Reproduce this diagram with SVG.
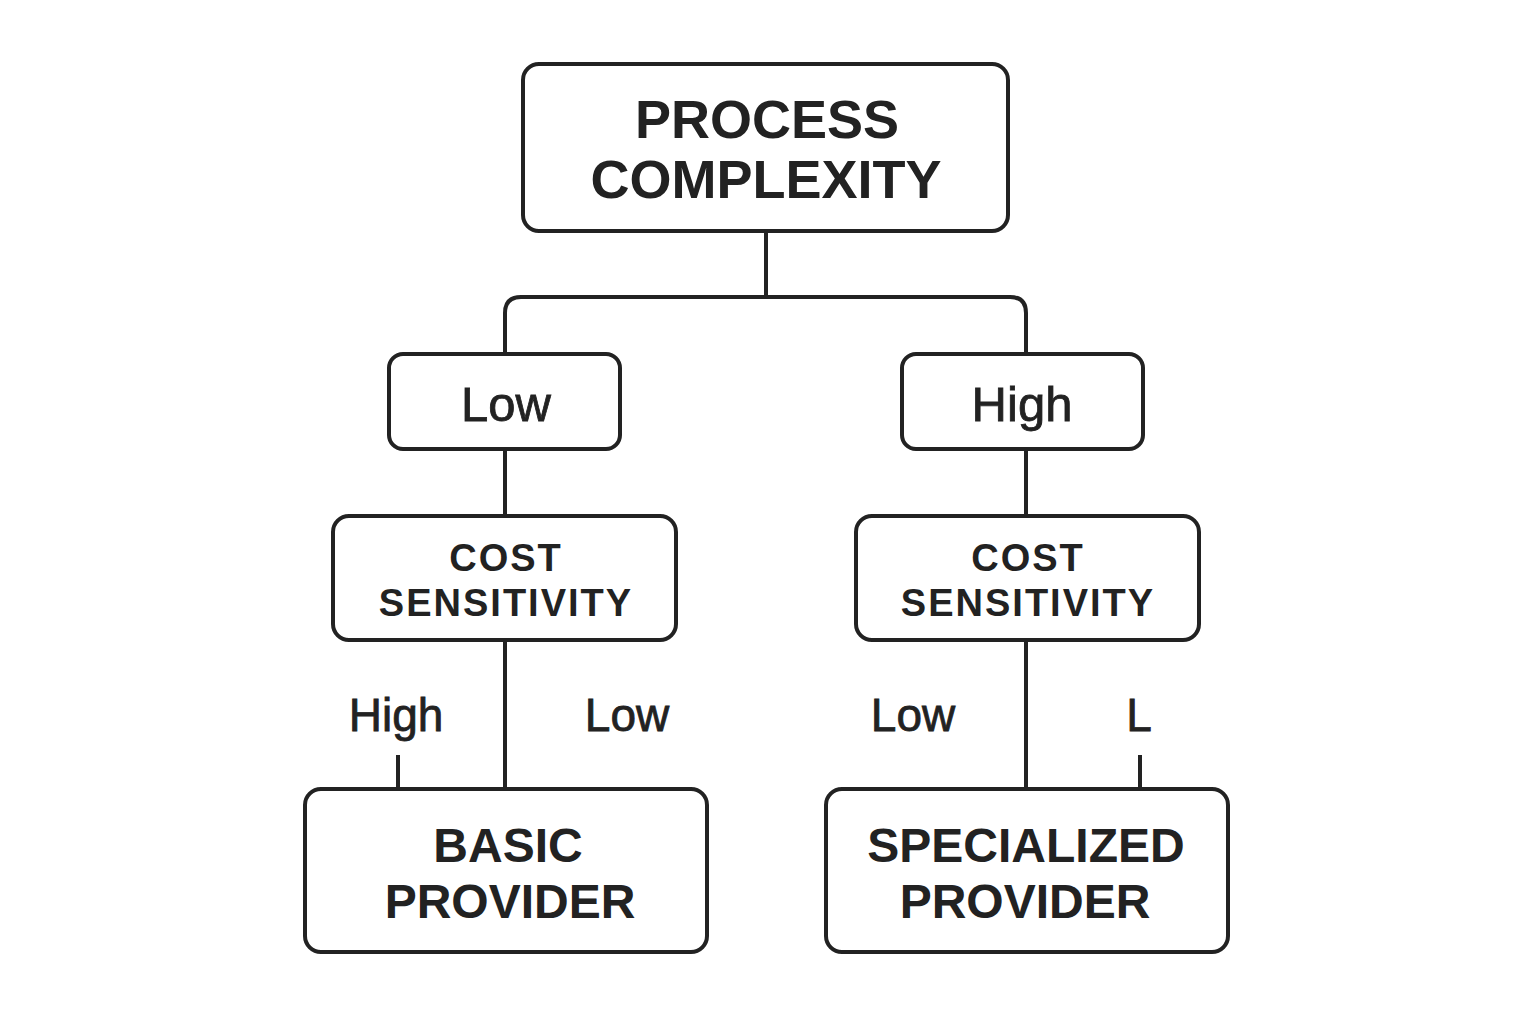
<svg xmlns="http://www.w3.org/2000/svg" width="1536" height="1024" viewBox="0 0 1536 1024">
<style>
.box{fill:#fff;stroke:#222;stroke-width:4}
.ln{fill:none;stroke:#222;stroke-width:4}
text{font-family:"Liberation Sans",Arial,sans-serif;fill:#222;text-anchor:middle}
.t1{font-size:54px;font-weight:bold}
.t2{font-size:49px;font-weight:normal;stroke:#222;stroke-width:0.8}
.t3{font-size:38px;font-weight:bold;letter-spacing:2px}
.t4{font-size:48px;font-weight:bold}
.lb{font-size:46px;stroke:#222;stroke-width:0.8}
</style>
<rect width="1536" height="1024" fill="#fff"/>
<g id="connectors">
<path class="ln" d="M766 231V297"/>
<path class="ln" d="M505 354V313Q505 297 521 297H1010Q1026 297 1026 313V354"/>
<path class="ln" d="M505 449V516"/>
<path class="ln" d="M1026 449V516"/>
<path class="ln" d="M505 640V789"/>
<path class="ln" d="M1026 640V789"/>
<path class="ln" d="M398 755V789"/>
<path class="ln" d="M1140 755V789"/>
<text class="lb" x="396" y="731">High</text>
<text class="lb" x="627" y="731">Low</text>
<text class="lb" x="913" y="731">Low</text>
<text class="lb" x="1139" y="731">L</text>
</g>
<g id="process-complexity">
<rect class="box" x="523" y="64" width="485" height="167" rx="16"/>
<text class="t1" x="767" y="138">PROCESS</text>
<text class="t1" x="766" y="198">COMPLEXITY</text>
</g>
<g id="low">
<rect class="box" x="389" y="354" width="231" height="95" rx="14"/>
<text class="t2" x="506" y="421">Low</text>
</g>
<g id="high">
<rect class="box" x="902" y="354" width="241" height="95" rx="14"/>
<text class="t2" x="1022" y="421">High</text>
</g>
<g id="cost-left">
<rect class="box" x="333" y="516" width="343" height="124" rx="16"/>
<text class="t3" x="506" y="571">COST</text>
<text class="t3" x="506" y="616">SENSITIVITY</text>
</g>
<g id="cost-right">
<rect class="box" x="856" y="516" width="343" height="124" rx="16"/>
<text class="t3" x="1028" y="571">COST</text>
<text class="t3" x="1028" y="616">SENSITIVITY</text>
</g>
<g id="basic-provider">
<rect class="box" x="305" y="789" width="402" height="163" rx="16"/>
<text class="t4" x="508" y="862">BASIC</text>
<text class="t4" x="510" y="918">PROVIDER</text>
</g>
<g id="specialized-provider">
<rect class="box" x="826" y="789" width="402" height="163" rx="16"/>
<text class="t4" x="1026" y="862">SPECIALIZED</text>
<text class="t4" x="1025" y="918">PROVIDER</text>
</g>
</svg>
